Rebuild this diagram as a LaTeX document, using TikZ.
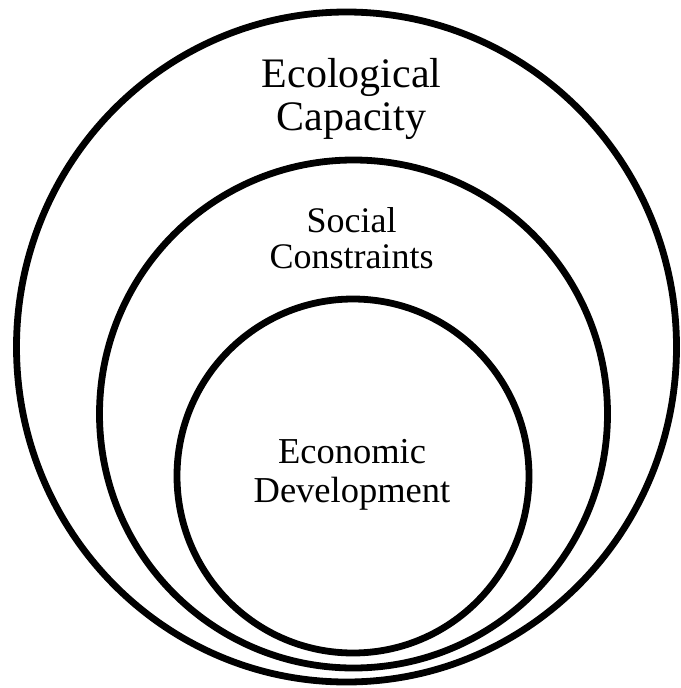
\documentclass[tikz,border=0pt]{standalone}
\usepackage{fontspec}
\setmainfont{Liberation Serif}
\usetikzlibrary{shapes.geometric}
\begin{document}
\begin{tikzpicture}[x=1pt,y=-1pt,
  ring/.style={draw=black, line width=6.8pt, ellipse, inner sep=0pt, outer sep=0pt},
  bigtext/.style={align=center, inner sep=0pt, font=\fontsize{42}{43}\selectfont},
  midtext/.style={align=center, inner sep=0pt, font=\fontsize{36}{36}\selectfont},
  smalltext/.style={align=center, inner sep=0pt, font=\fontsize{36.5}{39}\selectfont}]
\useasboundingbox (0,0) rectangle (680,688);
\fill[white] (0,0) rectangle (680,688);
\node[ring, minimum width=660pt, minimum height=670pt] (eco) at (346.5,347) {};
\node[ring, minimum width=508pt, minimum height=508pt] (soc) at (353.5,414) {};
\node[ring, minimum width=352pt, minimum height=354pt] (econ) at (353,476) {};
\node[bigtext] (ecolabel) at (351.5,99) {Ecological\\Capacity};
\node[midtext] (soclabel) at (351.5,238) {Social\\Constraints};
\node[smalltext] (econlabel) at (352,475) {Economic\\Development};
\end{tikzpicture}
\end{document}
